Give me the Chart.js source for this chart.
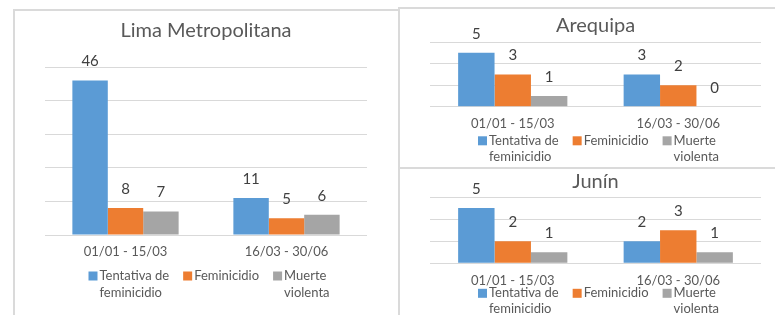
<!DOCTYPE html>
<html>
<head>
<meta charset="utf-8">
<script src="https://cdn.jsdelivr.net/npm/chart.js@4.4.1/dist/chart.umd.min.js"></script>
<style>
  html, body { margin: 0; padding: 0; background: #fff; }
  body { width: 775px; height: 315px; position: relative; overflow: hidden; }
  .panel { position: absolute; border: 2px solid #dadada; box-sizing: border-box; }
  .wrap { position: absolute; }
</style>
</head>
<body>
<div class="panel" style="left:13px;top:9px;width:387px;height:330px"></div>
<div class="panel" style="left:398px;top:7px;width:390px;height:162px"></div>
<div class="panel" style="left:398px;top:167px;width:390px;height:170px"></div>
<div class="wrap" style="left:15px;top:11px;width:382px;height:304px"><canvas id="lima"></canvas></div>
<div class="wrap" style="left:400px;top:9px;width:375px;height:158px"><canvas id="arequipa"></canvas></div>
<div class="wrap" style="left:400px;top:169px;width:375px;height:146px"><canvas id="junin"></canvas></div>
<script>
const periods = ['01/01 - 15/03', '16/03 - 30/06'];
const seriesNames = [['Tentativa de', 'feminicidio'], ['Feminicidio'], ['Muerte', 'violenta']];
const seriesColors = ['#5b9bd5', '#ed7d31', '#a5a5a5'];

const limaTentativa = [46, 11];
const limaFeminicidio = [8, 5];
const limaMuerte = [7, 6];

const arequipaTentativa = [5, 3];
const arequipaFeminicidio = [3, 2];
const arequipaMuerte = [1, 0];

const juninTentativa = [5, 2];
const juninFeminicidio = [2, 3];
const juninMuerte = [1, 1];

Chart.defaults.font.family = 'Lato';
Chart.defaults.color = '#595959';

// numbers over the bars
const valueLabels = {
    id: 'valueLabels',
    afterDatasetsDraw(chart) {
        const ctx = chart.ctx;
        ctx.save();
        ctx.font = '15px Lato';
        ctx.fillStyle = '#404040';
        ctx.textAlign = 'center';
        ctx.textBaseline = 'middle';
        chart.data.datasets.forEach((ds, i) => {
            chart.getDatasetMeta(i).data.forEach((bar, j) => {
                ctx.fillText(ds.data[j], bar.x, bar.y - 19);
            });
        });
        ctx.restore();
    }
};

// excel style legend with wrapped names
const wrapLegend = {
    id: 'wrapLegend',
    afterDraw(chart, args, opts) {
        const ctx = chart.ctx;
        const area = chart.chartArea;
        const box = 9, gap = 2, spacing = 14;
        ctx.save();
        ctx.font = '13px Lato';
        ctx.textBaseline = 'middle';
        const widths = opts.names.map(lines => Math.max(...lines.map(l => ctx.measureText(l).width)));
        const total = widths.reduce((a, b) => a + b + box + gap, 0) + spacing * (widths.length - 1);
        let x = (area.left + area.right) / 2 - total / 2 + 3;
        const y = area.bottom + opts.offset;
        opts.names.forEach((lines, i) => {
            ctx.fillStyle = chart.data.datasets[i].backgroundColor;
            ctx.fillRect(x, y - box / 2, box, box);
            ctx.fillStyle = '#595959';
            lines.forEach((l, k) => ctx.fillText(l, x + box + gap, y + k * opts.lineGap));
            x += box + gap + widths[i] + spacing;
        });
        ctx.restore();
    }
};

const makeChart = (id, title, values, yMax, yStep, lay) => {
    new Chart(document.getElementById(id), {
        type: 'bar',
        data: {
            labels: periods,
            datasets: values.map((v, i) => ({
                label: seriesNames[i].join(' '),
                data: v,
                backgroundColor: seriesColors[i],
                categoryPercentage: 0.66,
                barPercentage: 1
            }))
        },
        options: {
            responsive: true,
            maintainAspectRatio: false,
            animation: false,
            layout: {
                padding: { left: lay.left, right: lay.right, top: 0, bottom: lay.bottom }
            },
            scales: {
                x: {
                    grid: { display: false, drawTicks: false },
                    border: { display: false },
                    ticks: { padding: lay.tickPad, font: { size: 13 }, color: '#595959' }
                },
                y: {
                    min: 0,
                    max: yMax,
                    ticks: { display: false, stepSize: yStep },
                    grid: { color: '#d9d9d9', lineWidth: 1, drawTicks: false },
                    border: { display: false },
                    afterFit: s => { s.width = 0; }
                }
            },
            plugins: {
                legend: { display: false },
                tooltip: { enabled: false },
                title: {
                    display: true,
                    text: title,
                    color: '#595959',
                    font: { size: 20, weight: 'normal' },
                    padding: { top: lay.titleTop, bottom: lay.titleBottom }
                },
                wrapLegend: { names: seriesNames, offset: lay.legendOffset, lineGap: lay.lineGap }
            }
        },
        plugins: [valueLabels, wrapLegend]
    });
}

makeChart('lima', 'Lima Metropolitana', [limaTentativa, limaFeminicidio, limaMuerte], 50, 10,
    { left: 30, right: 30, bottom: 46.4, tickPad: 9, titleTop: 8, titleBottom: 24, legendOffset: 41, lineGap: 17 });

makeChart('arequipa', 'Arequipa', [arequipaTentativa, arequipaFeminicidio, arequipaMuerte], 6, 2,
    { left: 30, right: 14, bottom: 25.2, tickPad: 9.7, titleTop: 5, titleBottom: 4, legendOffset: 34, lineGap: 16 });

makeChart('junin', 'Junín', [juninTentativa, juninFeminicidio, juninMuerte], 6, 2,
    { left: 30, right: 14, bottom: 16.7, tickPad: 9.7, titleTop: 1, titleBottom: 3, legendOffset: 30, lineGap: 16 });
</script>
</body>
</html>
